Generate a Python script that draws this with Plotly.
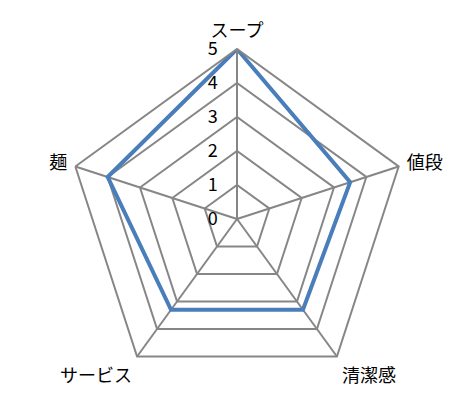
import plotly.graph_objects as go

categories = ['スープ', '値段', '清潔感', 'サービス', '麺']
scores = [5, 3.5, 3.3, 3.3, 4]
radial_ticks = [0, 1, 2, 3, 4, 5]

grid_color = '#868686'

fig = go.Figure()

# close the loop by repeating the first point
fig.add_trace(go.Scatterpolar(
    r=scores + scores[:1],
    theta=categories + categories[:1],
    mode='lines',
    line=dict(color='#4a7ebb', width=4),
    showlegend=False,
))

fig.update_layout(
    width=470, height=409,
    margin=dict(l=59, r=71, t=41, b=28),
    paper_bgcolor='white',
    font=dict(family='Noto Sans CJK JP', size=18, color='black'),
    polar=dict(
        bgcolor='white',
        gridshape='linear',
        radialaxis=dict(
            range=[0, 5],
            tickvals=radial_ticks,
            angle=90,
            tickangle=90,
            side='counterclockwise',
            showline=True,
            linecolor=grid_color,
            linewidth=2,
            gridcolor=grid_color,
            gridwidth=2,
            # invisible ticks just to push the labels away from the axis
            ticks='outside',
            ticklen=12,
            tickcolor='rgba(0,0,0,0)',
            tickfont=dict(size=18),
        ),
        angularaxis=dict(
            direction='clockwise',
            rotation=90,
            showline=True,
            linecolor=grid_color,
            linewidth=2,
            gridcolor=grid_color,
            gridwidth=2,
            ticks='outside',
            ticklen=4,
            tickcolor='rgba(0,0,0,0)',
            tickfont=dict(size=18),
        ),
    ),
)

fig.write_html('out.html')
